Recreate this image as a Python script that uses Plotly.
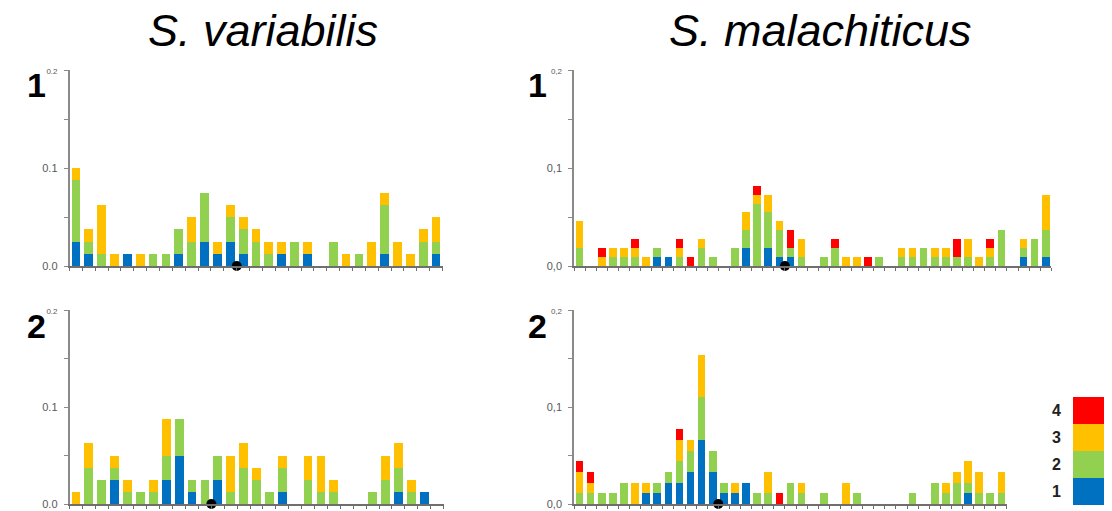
import plotly.graph_objects as go

W, H = 1112, 511

# ---------------- data (fractions) ----------------
# S. variabilis, row 1 (29 positions)
sv1_cat = list(range(1, 30))
sv1_c1 = [0.025, 0.0125, 0, 0, 0.0125, 0, 0, 0, 0.0125, 0, 0.025, 0.0125, 0.025, 0.0125, 0,
          0, 0.0125, 0, 0.0125, 0, 0, 0, 0, 0, 0.0125, 0, 0, 0, 0.0125]
sv1_c2 = [0.0625, 0.0125, 0.0125, 0, 0, 0, 0.0125, 0.0125, 0.025, 0.025, 0.05, 0, 0.025, 0.025, 0.025,
          0.0125, 0, 0.025, 0, 0, 0.025, 0, 0.0125, 0, 0.05, 0, 0, 0.025, 0.0125]
sv1_c3 = [0.0125, 0.0125, 0.05, 0.0125, 0, 0.0125, 0, 0, 0, 0.025, 0, 0.0125, 0.0125, 0.0125, 0.0125,
          0.0125, 0.0125, 0, 0.0125, 0, 0, 0.0125, 0, 0.025, 0.0125, 0.025, 0.0125, 0.0125, 0.025]
sv1_c4 = [0] * 29
sv1_mark = 13.5

# S. variabilis, row 2 (29 positions)
sv2_cat = list(range(1, 30))
sv2_c1 = [0, 0, 0, 0.025, 0, 0, 0, 0.025, 0.05, 0.0125, 0, 0.025, 0, 0, 0,
          0, 0.0125, 0, 0, 0, 0, 0, 0, 0, 0, 0.0125, 0, 0.0125, 0]
sv2_c2 = [0, 0.0375, 0.025, 0.0125, 0.0125, 0.0125, 0.0125, 0.025, 0.0375, 0.0125, 0.025, 0.025, 0.0125, 0.0375, 0.025,
          0.0125, 0.025, 0, 0.025, 0.0125, 0.0125, 0, 0, 0.0125, 0.025, 0.025, 0.0125, 0, 0]
sv2_c3 = [0.0125, 0.025, 0, 0.0125, 0.0125, 0, 0.0125, 0.0375, 0, 0, 0, 0, 0.0375, 0.025, 0.0125,
          0, 0.0125, 0, 0.025, 0.0375, 0.0125, 0, 0, 0, 0.025, 0.025, 0.0125, 0, 0]
sv2_c4 = [0] * 29
sv2_mark = 11.5

# S. malachiticus, row 1 (43 positions)
sm1_cat = list(range(1, 44))
sm1_c1 = [0, 0, 0, 0, 0, 0, 0, 0.0091, 0.0091, 0, 0, 0, 0, 0, 0,
          0.0182, 0, 0.0182, 0.0091, 0.0091, 0, 0, 0, 0, 0, 0, 0, 0, 0, 0,
          0, 0, 0, 0, 0, 0, 0, 0, 0, 0, 0.0091, 0, 0.0091]
sm1_c2 = [0.0182, 0, 0, 0.0091, 0.0091, 0.0091, 0, 0.0091, 0, 0.0091, 0, 0.0182, 0.0091, 0, 0.0182,
          0.0182, 0.0636, 0.0364, 0.0273, 0.0091, 0.0091, 0, 0.0091, 0.0182, 0, 0, 0, 0.0091, 0, 0.0091,
          0.0091, 0.0182, 0.0091, 0.0091, 0.0091, 0.0091, 0, 0.0091, 0.0364, 0, 0.0091, 0.0273, 0.0273]
sm1_c3 = [0.0273, 0, 0.0091, 0.0091, 0.0091, 0.0091, 0.0091, 0, 0, 0.0091, 0, 0.0091, 0, 0, 0,
          0.0182, 0.0091, 0.0182, 0.0091, 0, 0.0182, 0, 0, 0, 0.0091, 0.0091, 0, 0, 0, 0.0091,
          0.0091, 0, 0.0091, 0.0091, 0, 0.0182, 0.0091, 0.0091, 0, 0, 0.0091, 0, 0.0364]
sm1_c4 = [0, 0, 0.0091, 0, 0, 0.0091, 0, 0, 0, 0.0091, 0.0091, 0, 0, 0, 0,
          0, 0.0091, 0, 0, 0.0182, 0, 0, 0, 0.0091, 0, 0, 0.0091, 0, 0, 0,
          0, 0, 0, 0, 0.0182, 0, 0, 0.0091, 0, 0, 0, 0, 0]
sm1_mark = 19.5

# S. malachiticus, row 2 (39 positions)
sm2_cat = list(range(1, 40))
sm2_c1 = [0, 0, 0, 0, 0, 0, 0.011, 0.011, 0.022, 0.022, 0.033, 0.066, 0.033, 0.011, 0.011,
          0.022, 0, 0, 0, 0, 0, 0, 0, 0, 0, 0, 0, 0, 0, 0,
          0, 0, 0, 0, 0, 0.011, 0, 0, 0]
sm2_c2 = [0.011, 0.011, 0.011, 0.011, 0.022, 0, 0, 0.011, 0.011, 0.022, 0.022, 0.044, 0.022, 0.011, 0,
          0, 0.011, 0.011, 0, 0.022, 0.011, 0, 0.011, 0, 0, 0.011, 0, 0, 0, 0,
          0.011, 0, 0.022, 0.011, 0.022, 0.011, 0.011, 0.011, 0.011]
sm2_c3 = [0.022, 0.011, 0, 0, 0, 0.022, 0.011, 0, 0, 0.022, 0.011, 0.044, 0, 0, 0.011,
          0, 0, 0.022, 0, 0, 0.011, 0, 0, 0, 0.022, 0, 0, 0, 0, 0,
          0, 0, 0, 0.011, 0.011, 0.022, 0.022, 0, 0.022]
sm2_c4 = [0.011, 0.011, 0, 0, 0, 0, 0, 0, 0, 0.011, 0, 0, 0, 0, 0,
          0, 0, 0, 0.011, 0, 0, 0, 0, 0, 0, 0, 0, 0, 0, 0,
          0, 0, 0, 0, 0, 0, 0, 0, 0]
sm2_mark = 13.5

class_names = ["1", "2", "3", "4"]
class_colors = ["#0070C0", "#92D050", "#FFC000", "#FF0000"]
titles = ["S. variabilis", "S. malachiticus"]
row_labels = ["1", "2"]

# ---------------- layout helpers ----------------
def px_x(p):
    return p / W

def px_y(p):
    return 1 - p / H

panels = [
    # (axis suffix, cats, series, mark, x0px, x1px, y0px(0.0), y1px(0.2), decimal sep)
    ("", sv1_cat, [sv1_c1, sv1_c2, sv1_c3, sv1_c4], sv1_mark, 69.5, 442.5, 266, 70, "."),
    ("2", sm1_cat, [sm1_c1, sm1_c2, sm1_c3, sm1_c4], sm1_mark, 574, 1051.3, 266, 70, ","),
    ("3", sv2_cat, [sv2_c1, sv2_c2, sv2_c3, sv2_c4], sv2_mark, 69.5, 443.5, 504, 310, "."),
    ("4", sm2_cat, [sm2_c1, sm2_c2, sm2_c3, sm2_c4], sm2_mark, 574, 1006.9, 504, 310, ","),
]

fig = go.Figure()
layout = {}
AX = "#8a8a8a"
for suf, cats, series, mark, x0, x1, y0, y1, sep in panels:
    n = len(cats)
    xa = "x" + suf
    ya = "y" + suf
    for name, col, vals in zip(class_names, class_colors, series):
        fig.add_trace(go.Bar(
            x=cats, y=vals, name=name, marker=dict(color=col, line=dict(width=0)),
            width=0.68, xaxis=xa, yaxis=ya, showlegend=False,
        ))
    fig.add_trace(go.Scatter(
        x=[mark], y=[0], mode="markers", marker=dict(color="black", size=10),
        xaxis=xa, yaxis=ya, showlegend=False, cliponaxis=False,
    ))
    lbl = lambda v: v.replace(".", sep)
    layout["xaxis" + suf] = dict(
        domain=[px_x(x0), px_x(x1)], range=[0.5, n + 0.5], anchor=ya,
        showgrid=False, zeroline=False, showline=True, linecolor="#6f6f6f", linewidth=1.5,
        tickmode="array", tickvals=[i + 0.5 for i in range(n + 1)], ticks="outside",
        ticklen=3, tickcolor="#6f6f6f", tickwidth=1, showticklabels=False, fixedrange=True,
        automargin=False,
    )
    layout["yaxis" + suf] = dict(
        domain=[px_y(y0), px_y(y1)], range=[0, 0.2], anchor=xa,
        showgrid=False, zeroline=False, showline=True, linecolor=AX, linewidth=1.5,
        tickmode="array", tickvals=[0, 0.05, 0.1, 0.15, 0.2],
        ticktext=[lbl("0.0"), "", lbl("0.1"), "", "<span style='font-size:8px'>" + lbl("0.2") + "</span>"],
        ticks="outside", ticklen=4, tickcolor=AX, tickwidth=1,
        tickfont=dict(size=11, color="#595959", family="Liberation Sans, Arial"),
        ticklabelstandoff=4, automargin=False,
    )

annotations = []
# column titles
for txt, cx in zip(titles, [263, 820]):
    annotations.append(dict(
        text="<i>" + txt + "</i>", x=px_x(cx), y=px_y(30), xref="paper", yref="paper",
        showarrow=False, xanchor="center", yanchor="middle",
        font=dict(size=45, color="black", family="Liberation Sans, Arial"),
    ))
# row labels
for txt, cy in zip(row_labels, [85, 326]):
    for cx in [36, 537]:
        annotations.append(dict(
            text="<b>" + txt + "</b>", x=px_x(cx), y=px_y(cy), xref="paper", yref="paper",
            showarrow=False, xanchor="center", yanchor="middle",
            font=dict(size=34, color="black", family="Liberation Sans, Arial"),
        ))

# legend (class key)
shapes = []
box_top = 397
box_h = 27
for i, (name, col) in enumerate(reversed(list(zip(class_names, class_colors)))):
    t = box_top + i * box_h
    shapes.append(dict(type="rect", xref="paper", yref="paper",
                       x0=px_x(1073), x1=px_x(1104), y0=px_y(t + box_h), y1=px_y(t),
                       fillcolor=col, line=dict(width=0)))
    annotations.append(dict(
        text="<b>" + name + "</b>", x=px_x(1056), y=px_y(t + box_h / 2), xref="paper", yref="paper",
        showarrow=False, xanchor="center", yanchor="middle",
        font=dict(size=16, color="#222222", family="Liberation Sans, Arial"),
    ))

fig.update_layout(
    width=W, height=H, margin=dict(l=0, r=0, t=0, b=0, autoexpand=False),
    paper_bgcolor="white", plot_bgcolor="white",
    barmode="stack", bargap=0.3, annotations=annotations, shapes=shapes,
    showlegend=False, **layout,
)

fig.write_html(
    "out.html",
    config={"displayModeBar": False},
    post_script="document.body.style.margin='0';document.body.style.overflow='hidden';",
)
